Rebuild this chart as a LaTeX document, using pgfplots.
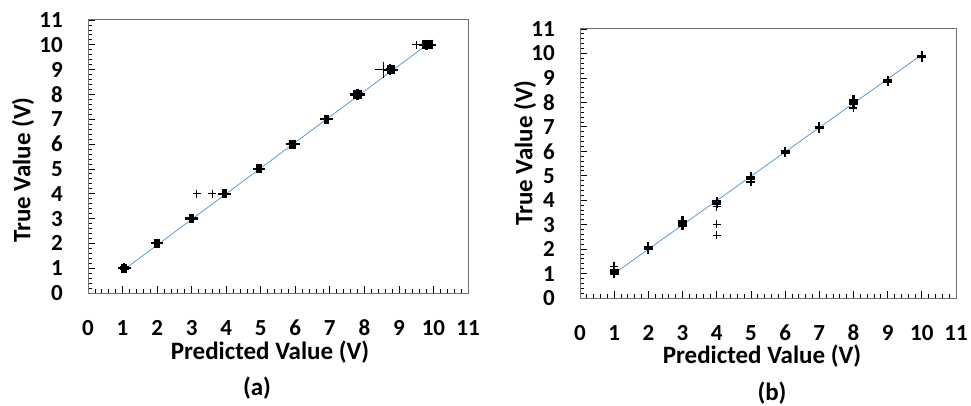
\documentclass[border=0pt]{standalone}
\usepackage{fontspec}
\setmainfont{Carlito}
\usepackage{pgfplots}
\pgfplotsset{compat=1.18}
\definecolor{boxgray}{RGB}{112,112,112}
\definecolor{fitblue}{RGB}{91,155,213}
\pgfplotsset{
  panel/.style={
    scale only axis, anchor=south west,
    xmin=0, xmax=11, ymin=0, ymax=11,
    xtick={0,1,...,11}, ytick={0,1,...,11},
    minor tick num=4,
    xtick pos=bottom, ytick pos=left,
    tick align=inside,
    major tick length=7pt, minor tick length=4pt,
    every tick/.style={black, line width=0.8pt},
    axis line style={boxgray, line width=1pt},
    /pgf/number format/assume math mode=true,
    ticklabel style={font=\fontsize{23}{26}\selectfont\bfseries},
    xticklabel style={anchor=center, yshift=-35pt, inner sep=0pt},
    yticklabel style={anchor=east, xshift=-25pt, inner sep=0pt},
    clip=false,
  },
  thickp/.style={only marks, mark=+, mark size=4.5pt, black, mark options={line width=2.2pt}},
  thinp/.style={only marks, mark=+, mark size=4pt, black, mark options={line width=0.8pt}},
}
\begin{document}
\begin{tikzpicture}
\useasboundingbox (0pt,0pt) rectangle (971pt,405pt);
% ---------- (a)
\begin{axis}[panel, at={(88pt,112pt)}, width=380pt, height=273pt]
\addplot[fitblue, line width=0.8pt] coordinates {(1.0,0.9) (10.0,10.2)};
\addplot[thickp] coordinates {
(1.0,1)(1.05,1)(1.1,1)(1.05,0.97)(1.05,1.03)
(1.95,2)(2.0,2)(2.05,2)
(2.95,3)(3.0,3)(3.05,3)
(3.9,4)(3.95,4)(4.0,4)
(4.9,5)(4.95,5)(5.0,5)
(5.85,6)(5.9,6)(5.95,6)(6.0,6)
(6.85,7)(6.9,7)(6.95,7)
(7.7,8)(7.75,8)(7.8,8)(7.85,8)(7.9,8)(7.8,7.97)(7.8,8.03)
(8.7,9)(8.75,9)(8.8,9)(8.85,9)(8.75,8.97)(8.75,9.03)
(9.7,10)(9.75,10)(9.8,10)(9.85,10)(9.9,10)(9.95,10)(9.8,9.97)(9.8,10.03)
};
\addplot[thinp] coordinates {(3.15,4)(9.5,10)};
\addplot[only marks, mark=+, mark size=4pt, black, mark options={line width=1.4pt}] coordinates {(3.6,4)};
\addplot[only marks, mark=+, mark size=8pt, black, mark options={line width=0.8pt}] coordinates {(8.55,9)};
\end{axis}
\node[rotate=90, font=\fontsize{25}{28}\selectfont\bfseries] at (23pt,235pt) {True Value (V)};
\node[font=\fontsize{25}{28}\selectfont\bfseries] at (270pt,53pt) {Predicted Value (V)};
\node[font=\fontsize{25}{28}\selectfont\bfseries] at (257pt,17pt) {(a)};
% ---------- (b)
\begin{axis}[panel, at={(580pt,107pt)}, width=376pt, height=269pt]
\addplot[fitblue, line width=0.8pt] coordinates {(1.0,1.0) (10.0,9.95)};
\addplot[thickp] coordinates {
(1,1.0)(1,1.05)(1,1.1)(1,1.15)
(2,2.0)(2,2.05)(2,2.1)
(3,2.95)(3,3.05)(3,3.15)
(4,3.85)(4,3.9)(4,3.95)
(5,4.75)(5,4.85)(5,4.95)
(6,5.95)(6,6.0)
(7,6.95)(7,7.0)
(8,7.95)(8,8.05)(8,8.1)
(9,8.85)(9,8.9)
(10,9.85)(10,9.9)
};
\addplot[only marks, mark=+, mark size=4pt, black, mark options={line width=1.4pt}] coordinates {(1,1.3)(4,3.73)(8,7.77)};
\addplot[thinp] coordinates {(4,3.03)(4,2.57)};
\end{axis}
\node[rotate=90, font=\fontsize{25}{28}\selectfont\bfseries] at (525pt,252pt) {True Value (V)};
\node[font=\fontsize{25}{28}\selectfont\bfseries] at (762pt,49pt) {Predicted Value (V)};
\node[font=\fontsize{25}{28}\selectfont\bfseries] at (772pt,12pt) {(b)};
\end{tikzpicture}
\end{document}
